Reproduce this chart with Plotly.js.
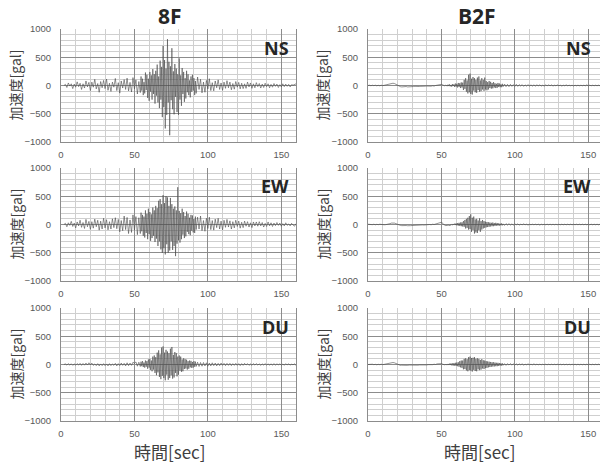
<!DOCTYPE html>
<html>
<head>
<meta charset="utf-8">
<script src="https://cdn.plot.ly/plotly-3.0.1.min.js"></script>
<style>html,body{margin:0;padding:0;background:#fff;}#chart{width:600px;height:464px;}</style>
</head>
<body>
<div id="chart"></div>
<script>
// time samples [sec]
const time = [
  0,1,2,3,4,5,6,7,8,9,10,11,12,13,14,15,16,17,18,19,20,21,22,23,24,25,26,27,28,29,
  30,31,32,33,34,35,36,37,38,39,40,41,42,43,44,45,46,47,48,49,50,51,52,53,54,
  54.5,55,55.5,56,56.5,57,57.5,58,58.5,59,59.5,60,60.5,61,61.5,62,62.5,63,63.5,64,
  64.5,65,65.5,66,66.5,67,67.5,68,68.5,69,69.5,70,70.5,71,71.5,72,72.5,73,73.5,74,
  74.5,75,75.5,76,76.5,77,77.5,78,78.5,79,79.5,80,80.5,81,81.5,82,82.5,83,83.5,84,
  84.5,85,85.5,86,86.5,87,87.5,88,88.5,89,89.5,90,90.5,91,91.5,92,
  93,94,95,96,97,98,99,100,101,102,103,104,105,106,107,108,109,110,111,112,
  113,114,115,116,117,118,119,120,121,122,123,124,125,126,127,128,129,130,131,132,
  133,134,135,136,137,138,139,140,141,142,143,144,145,146,147,148,149,150,151,152,
  153,154,155,156,157,158,159,160
];

// acceleration [gal]
const ns8F = [
  null,null,0,20,-35,45,-10,30,-55,25,
  -30,65,-20,40,-70,30,-45,80,-25,55,
  -90,60,-30,110,-60,35,-120,70,-40,90,
  -55,115,-85,40,-105,60,-30,125,-90,50,
  -135,80,-45,105,-70,130,-95,55,-115,140,
  -60,100,-150,70,-125,
  160,-90,120,-170,60,-140,230,-80,190,-220,
  120,-270,240,-110,180,-250,290,-150,200,-320,
  260,-180,370,-300,160,-400,440,-250,330,-560,
  700,-380,450,-760,300,-520,820,-300,420,-880,
  340,-260,660,-420,250,-510,380,-200,300,-470,
  200,-520,480,-250,180,-360,310,-150,240,-290,
  130,-230,260,-120,200,-170,90,-210,160,-110,
  190,-90,130,-170,80,-140,
  150,-70,110,-130,60,-120,90,-60,120,-90,
  50,-95,80,-40,100,-70,45,-85,60,-50,
  85,-40,60,-75,35,-65,70,-30,55,-60,
  40,-55,30,-50,60,-25,45,-50,30,-40,
  50,-20,35,-45,25,-35,40,-20,30,-40,
  20,-30,35,-15,25,-35,15,-25,30,-20,
  25,-15,20,-25,15,5,20,30
];
const ew8F = [
  null,null,0,20,-40,30,-15,55,-35,25,
  -60,45,-25,75,-50,35,-70,90,-40,55,
  -85,50,-65,95,-40,75,-100,60,-80,110,
  -60,85,-95,50,-80,100,-55,120,-75,90,
  -130,70,-110,150,-90,125,-160,80,-140,170,
  -100,140,-180,120,-160,
  210,-120,170,-200,140,-230,250,-150,190,-260,
  280,-170,220,-290,180,-240,300,-200,250,-310,
  330,-250,290,-380,420,-300,450,-440,360,-500,
  520,-420,380,-530,500,-350,480,-500,330,-460,
  470,-300,360,-450,280,-380,320,-560,250,-340,
  660,-280,240,-320,200,-260,280,-180,220,-240,
  150,-210,230,-130,190,-170,120,-190,170,-110,
  160,-140,100,-150,140,-90,
  130,-80,150,-110,70,-120,110,-70,130,-90,
  70,-100,95,-55,110,-80,60,-95,75,-50,
  90,-45,65,-80,50,-60,75,-35,60,-65,
  40,-55,60,-30,50,-45,30,-55,45,-25,
  45,-30,50,-25,35,-45,20,-35,45,-25,
  30,-35,25,-20,35,-15,25,-30,15,-25,
  30,-15,10,-25,20,-10,-30,15
];
const du8F = [
  null,null,0,10,-10,15,-10,12,-15,10,
  -12,15,-10,20,-15,18,-12,25,-10,30,
  -5,25,-15,10,-20,15,-25,10,-20,15,
  -20,10,-25,15,-20,10,-15,20,-25,15,
  -20,25,-15,20,-25,30,-20,25,-15,40,
  20,45,-30,40,-35,
  50,-30,60,-45,35,-55,70,-40,60,-75,
  90,-55,100,-95,70,-120,140,-90,160,-150,
  130,-190,210,-140,250,-220,180,-260,300,-200,
  320,-240,210,-280,260,-180,230,-270,200,-240,
  280,-190,310,-250,170,-230,220,-150,200,-210,
  140,-180,160,-110,140,-130,90,-120,110,-80,
  95,-70,85,-90,60,-75,70,-50,65,-60,
  45,-55,60,-40,50,-35,
  40,-35,35,-30,35,-25,30,-30,25,-25,
  30,-20,25,-25,20,-20,25,-15,20,-20,
  20,-15,20,-20,15,-15,20,-15,15,-20,
  15,-15,20,-10,15,-15,10,-15,15,-10,
  15,-10,10,-15,10,-10,15,-10,10,-10,
  10,-10,15,-10,10,-5,10,-10,5,-10,
  10,-5,10,-10,5,-5,10,-15
];
const nsB2F = [
  0,5,-5,5,-3,5,-5,3,-5,5,
  -3,5,0,8,15,25,35,40,35,20,
  0,-15,-20,-25,-20,-22,-18,-25,-20,-15,
  -20,-18,-15,-20,-12,-18,-15,-10,-15,-12,
  -10,-15,-8,-12,-5,-10,0,5,15,25,
  20,10,-5,5,-10,
  15,-10,20,-15,10,-20,25,-10,20,-25,
  35,-20,30,-35,45,-25,40,-45,55,-35,
  50,-80,100,-60,130,-110,90,-140,190,-120,
  210,-150,120,-160,150,-90,130,-120,100,-130,
  140,-80,160,-110,90,-100,130,-70,100,-95,
  140,-70,80,-85,60,-70,80,-45,65,-55,
  45,-50,60,-35,40,-45,30,-40,45,-25,
  35,-30,20,-30,30,-20,
  25,-20,20,-20,20,-15,15,-15,20,-15,
  15,-10,15,-15,10,-10,15,-10,10,-10,
  10,-10,10,-5,10,-10,5,-10,10,-5,
  10,-5,10,-10,5,-5,10,-5,5,-10,
  5,-5,10,-5,5,-5,5,-10,5,-5,
  5,-5,5,-5,5,-5,10,-5,5,-5,
  5,-5,5,-5,5,-5,5,-5
];
const ewB2F = [
  5,0,5,-3,5,-5,3,-3,5,-2,
  0,-5,-3,0,5,15,25,30,25,15,
  0,-10,-15,-20,-15,-20,-18,-22,-15,-20,
  -18,-15,-20,-12,-15,-10,-12,-8,-10,-5,
  -8,-5,0,-5,5,0,10,15,25,35,
  40,20,-10,-20,-15,
  -20,-10,-25,-5,-15,0,-10,10,-5,15,
  -10,20,-15,25,-20,30,-25,35,-30,40,
  -35,60,-40,80,-70,100,-60,120,-90,150,
  -80,180,-130,120,-100,140,-160,90,-140,100,
  -150,70,-100,110,-130,60,-90,80,-70,60,
  -60,50,-50,45,-45,40,-40,35,-35,30,
  -30,35,-30,25,-25,30,-20,25,-20,20,
  -20,15,-15,20,-15,10,
  -15,15,-10,15,-10,10,-10,10,-5,10,
  -10,5,-5,10,-5,5,-10,5,-5,5,
  -5,5,-5,5,-10,5,-5,5,-5,5,
  -5,5,-5,5,-5,5,-5,5,-5,5,
  -5,5,-5,5,-5,5,-5,5,-5,5,
  -5,5,-5,5,-5,5,-5,5,-5,5,
  -5,5,-5,5,-5,5,-5,0
];
const duB2F = [
  0,3,-3,5,-3,3,-5,3,-3,5,
  -3,3,0,5,10,20,30,35,30,15,
  0,-10,-15,-12,-15,-10,-12,-15,-10,-12,
  -10,-12,-8,-10,-12,-8,-10,-5,-8,-5,
  -8,-3,-5,0,-3,5,0,10,15,20,
  15,5,-5,0,-5,
  10,-10,15,-10,20,-15,20,-20,25,-20,
  30,-25,35,-30,40,-40,60,-50,70,-60,
  70,-85,100,-80,110,-105,95,-120,130,-100,
  140,-110,115,-125,120,-95,130,-115,100,-120,
  110,-85,100,-100,80,-90,95,-70,75,-80,
  70,-65,60,-60,55,-50,50,-45,45,-40,
  40,-35,40,-35,35,-30,30,-30,30,-25,
  25,-20,20,-20,20,-15,
  15,-15,15,-10,15,-10,10,-10,10,-10,
  10,-5,10,-10,5,-5,10,-5,5,-5,
  10,-5,5,-5,5,-5,5,-5,5,-5,
  5,-5,5,-5,5,-5,5,-5,5,-5,
  5,-5,5,-5,5,-5,5,-5,5,-5,
  5,-5,5,-5,5,-5,5,-5,5,-5,
  5,-5,5,-5,5,-5,5,-5
];

const floors = ['8F', 'B2F'];
const components = ['NS', 'EW', 'DU'];
const series = [[ns8F, nsB2F], [ew8F, ewB2F], [du8F, duB2F]];
const xTicks = [0, 50, 100, 150];
const yTicks = [-1000, -500, 0, 500, 1000];
const yTitle = '加速度[gal]';
const xTitle = '時間[sec]';

const W = 600, H = 464;
const colX = [[61, 296, 160], [368, 600, 158]];   // px left, px right, x range max
const rowY = [[29, 142], [168, 281], [308, 421]];   // px top, px bottom

const data = [];
const layout = {
  width: W, height: H,
  margin: {l: 0, r: 0, t: 0, b: 0},
  paper_bgcolor: '#ffffff', plot_bgcolor: '#ffffff',
  showlegend: false,
  annotations: [], shapes: []
};
const tickFont = {family: 'Liberation Sans, Arial, sans-serif', size: 9.5, color: '#595959'};
let n = 0;
for (let r = 0; r < 3; r++) {
  for (let c = 0; c < 2; c++) {
    n++;
    const xa = n === 1 ? 'xaxis' : 'xaxis' + n;
    const ya = n === 1 ? 'yaxis' : 'yaxis' + n;
    const xr = n === 1 ? 'x' : 'x' + n;
    const yr = n === 1 ? 'y' : 'y' + n;
    data.push({
      x: time, y: series[r][c], xaxis: xr, yaxis: yr,
      type: 'scatter', mode: 'lines',
      line: {color: '#4a4a4a', width: 0.6},
      hoverinfo: 'skip', connectgaps: false
    });
    layout[xa] = {
      domain: [colX[c][0] / W, colX[c][1] / W],
      range: [0, colX[c][2]], anchor: yr,
      tickvals: xTicks, ticks: '', tickfont: tickFont, ticklabelstandoff: 4,
      showgrid: true, gridcolor: '#8c8c8c', gridwidth: 1,
      minor: {dtick: 10, tick0: 0, showgrid: true, gridcolor: '#cfcfcf', gridwidth: 1, ticks: ''},
      zeroline: false, showline: true, linecolor: '#8c8c8c', linewidth: 1,
      fixedrange: true
    };
    layout[ya] = {
      domain: [1 - rowY[r][1] / H, 1 - rowY[r][0] / H],
      range: [-1000, 1000], anchor: xr,
      tickvals: yTicks, ticks: '', tickfont: tickFont, ticklabelstandoff: 7,
      showgrid: true, gridcolor: '#8c8c8c', gridwidth: 1,
      minor: {dtick: 100, tick0: 0, showgrid: true, gridcolor: '#cfcfcf', gridwidth: 1, ticks: ''},
      zeroline: false, showline: true, linecolor: '#8c8c8c', linewidth: 1,
      mirror: true, fixedrange: true
    };
    // component label
    layout.annotations.push({
      xref: 'paper', yref: 'paper',
      x: (c === 0 ? 291 : 593) / W, y: 1 - ([48, 186, 327][r]) / H,
      xanchor: 'right', yanchor: 'middle', showarrow: false,
      text: '<b>' + components[r] + '</b>',
      font: {family: 'Open Sans, Liberation Sans, sans-serif', size: 18, color: '#262626'}
    });
    // y-axis title
    layout.annotations.push({
      xref: 'paper', yref: 'paper',
      x: (c === 0 ? 15 : 322) / W, y: 1 - ((rowY[r][0] + rowY[r][1]) / 2) / H,
      xanchor: 'center', yanchor: 'middle', showarrow: false, textangle: -90,
      text: yTitle,
      font: {family: 'Noto Sans CJK JP, sans-serif', size: 14, color: '#404040'}
    });
  }
}
// floor titles
layout.annotations.push({xref: 'paper', yref: 'paper', x: 170 / W, y: 1 - 16 / H,
  xanchor: 'center', yanchor: 'middle', showarrow: false, text: '<b>' + floors[0] + '</b>',
  font: {family: 'Open Sans, Liberation Sans, sans-serif', size: 21, color: '#262626'}});
layout.annotations.push({xref: 'paper', yref: 'paper', x: 477 / W, y: 1 - 16 / H,
  xanchor: 'center', yanchor: 'middle', showarrow: false, text: '<b>' + floors[1] + '</b>',
  font: {family: 'Open Sans, Liberation Sans, sans-serif', size: 21, color: '#262626'}});
// x-axis titles
[170, 480].forEach(function (cx) {
  layout.annotations.push({xref: 'paper', yref: 'paper', x: cx / W, y: 1 - 451 / H,
    xanchor: 'center', yanchor: 'middle', showarrow: false, text: xTitle,
    font: {family: 'Noto Sans CJK JP, sans-serif', size: 17, color: '#404040'}});
});

Plotly.newPlot('chart', data, layout, {staticPlot: true, displayModeBar: false});
</script>
</body>
</html>
